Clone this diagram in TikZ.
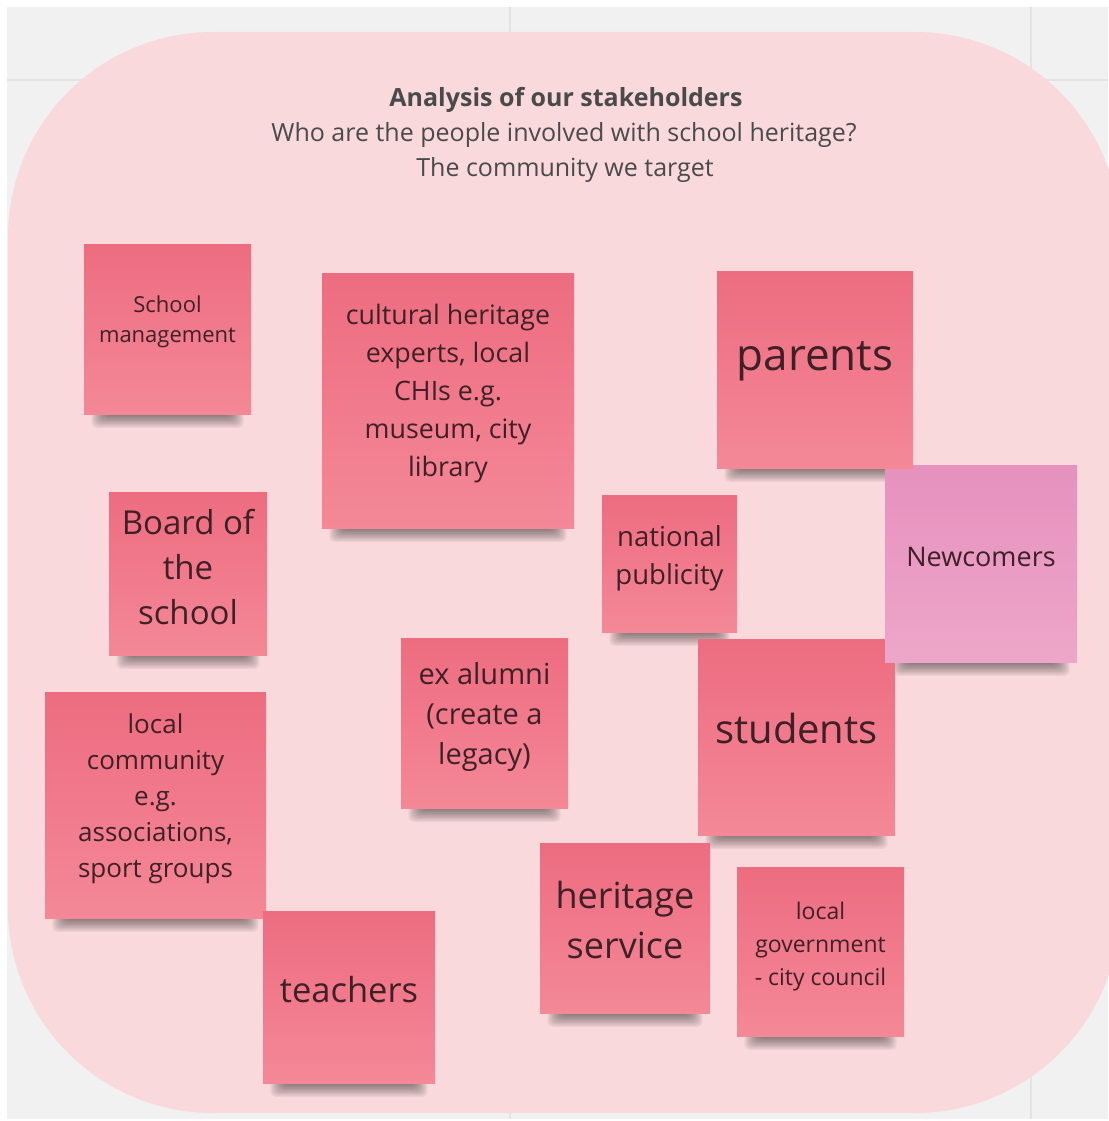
\documentclass[tikz,border=0pt]{standalone}
\usepackage{fontspec}
\setmainfont{Open Sans}
\pgfdeclarelayer{board}
\pgfdeclarelayer{shade}
\pgfsetlayers{board,shade,main}

\definecolor{canvas}{HTML}{F1F1F1}
\definecolor{gridline}{HTML}{E3E3E3}
\definecolor{boardpink}{HTML}{F9D9DC}
\definecolor{notetop}{RGB}{237,108,128}
\definecolor{notebot}{RGB}{244,136,151}
\definecolor{newtop}{RGB}{230,145,190}
\definecolor{newbot}{RGB}{237,166,201}
\definecolor{notefg}{HTML}{3F2026}
\definecolor{headfg}{HTML}{4A4A4A}

\newcommand\sz[2]{\fontsize{#1}{#2}\selectfont}

\begin{document}
\begin{tikzpicture}[x=1pt,y=-1pt,
  note/.style={rectangle, inner sep=0pt, draw=none, top color=notetop, bottom color=notebot},
  newnote/.style={note, top color=newtop, bottom color=newbot},
  notetext/.style={align=center, text=notefg, inner sep=0pt},
  heading/.style={text=headfg, inner sep=0pt},
  grid line/.style={draw=gridline, line width=1.5pt}]

\useasboundingbox (0,0) rectangle (1108,1121);

% whiteboard canvas and the frame
\begin{pgfonlayer}{board}
  \fill[white] (0,0) rectangle (1108,1121);
  \fill[canvas] (7,7) rectangle (1108,1119);
  \draw[grid line] (7,80) -- (1108,80);
  \draw[grid line] (510,7) -- (510,1119);
  \draw[grid line] (1031,7) -- (1031,1119);
  \fill[boardpink, rounded corners=205pt] (8,32) rectangle (1120,1113);
\end{pgfonlayer}

% heading
\node[heading, font=\bfseries\sz{25}{30}] (title) at (566,100) {Analysis of our stakeholders};
\node[heading, font=\sz{25}{30}] (question) at (564,135) {Who are the people involved with school heritage?};
\node[heading, font=\sz{25}{30}] (target) at (565,170) {The community we target};

% sticky notes
\node[note, minimum width=167, minimum height=170] (mgmt) at (167.5,329) {};
\node[notetext, font=\sz{22}{30}] (mgmt-txt) at ([yshift=7pt]mgmt.center) {School\\management};

\node[note, minimum width=252, minimum height=255] (chi) at (448,400.5) {};
\node[notetext, font=\sz{26.8}{38}] (chi-txt) at ([yshift=7pt]chi.center) {cultural heritage\\experts, local\\CHIs e.g.\\museum, city\\library};

\node[note, minimum width=158, minimum height=163] (board) at (188,573.5) {};
\node[notetext, font=\sz{33}{45}] (board-txt) at ([yshift=6pt]board.center) {Board of\\the\\school};

\node[note, minimum width=135, minimum height=137] (publicity) at (669.5,563.5) {};
\node[notetext, font=\sz{27.5}{38}] (publicity-txt) at ([yshift=5pt]publicity.center) {national\\publicity};

\node[note, minimum width=167, minimum height=170] (alumni) at (484.5,723) {};
\node[notetext, font=\sz{29}{40}] (alumni-txt) at ([yshift=6pt]alumni.center) {ex alumni\\(create a\\legacy)};

\node[note, minimum width=221, minimum height=226] (community) at (155.5,805) {};
\node[notetext, font=\sz{26}{36}] (community-txt) at ([yshift=6pt]community.center) {local\\community\\e.g.\\associations,\\sport groups};

\node[note, minimum width=172, minimum height=172] (teachers) at (349,997) {};
\node[notetext, font=\sz{34.5}{40}] (teachers-txt) at ([yshift=7pt]teachers.center) {teachers};

\node[note, minimum width=170, minimum height=170] (heritage) at (625,928) {};
\node[notetext, font=\sz{36}{50}] (heritage-txt) at ([yshift=8pt]heritage.center) {heritage\\service};

\node[note, minimum width=167, minimum height=169] (govt) at (820.5,951.5) {};
\node[notetext, font=\sz{23}{33}] (govt-txt) at ([yshift=5pt]govt.center) {local\\government\\- city council};

\node[note, minimum width=197, minimum height=196] (students) at (796.5,737) {};
\node[notetext, font=\sz{40}{48}] (students-txt) at ([yshift=9pt]students.center) {students};

\node[newnote, minimum width=192, minimum height=197] (newcomers) at (981,563.5) {};
\node[notetext, font=\sz{27}{34}] (newcomers-txt) at ([yshift=7pt]newcomers.center) {Newcomers};

\node[note, minimum width=196, minimum height=197] (parents) at (815,369.5) {};
\node[notetext, font=\sz{44}{50}] (parents-txt) at ([yshift=8pt]parents.center) {parents};

% soft shadows peeking out below each note
\begin{pgfonlayer}{shade}
  \foreach \n in {mgmt,chi,board,publicity,alumni,community,teachers,heritage,govt,students,newcomers,parents}{
    \foreach \i in {1,...,10}{
      \fill[black, opacity=0.05, rounded corners=5pt]
        ([xshift={6+1.5*\i}, yshift=30pt]\n.south west) rectangle
        ([xshift={-6-1.5*\i}, yshift={-(15-1.35*\i)}]\n.south east);
    }
  }
\end{pgfonlayer}
\end{tikzpicture}
\end{document}
